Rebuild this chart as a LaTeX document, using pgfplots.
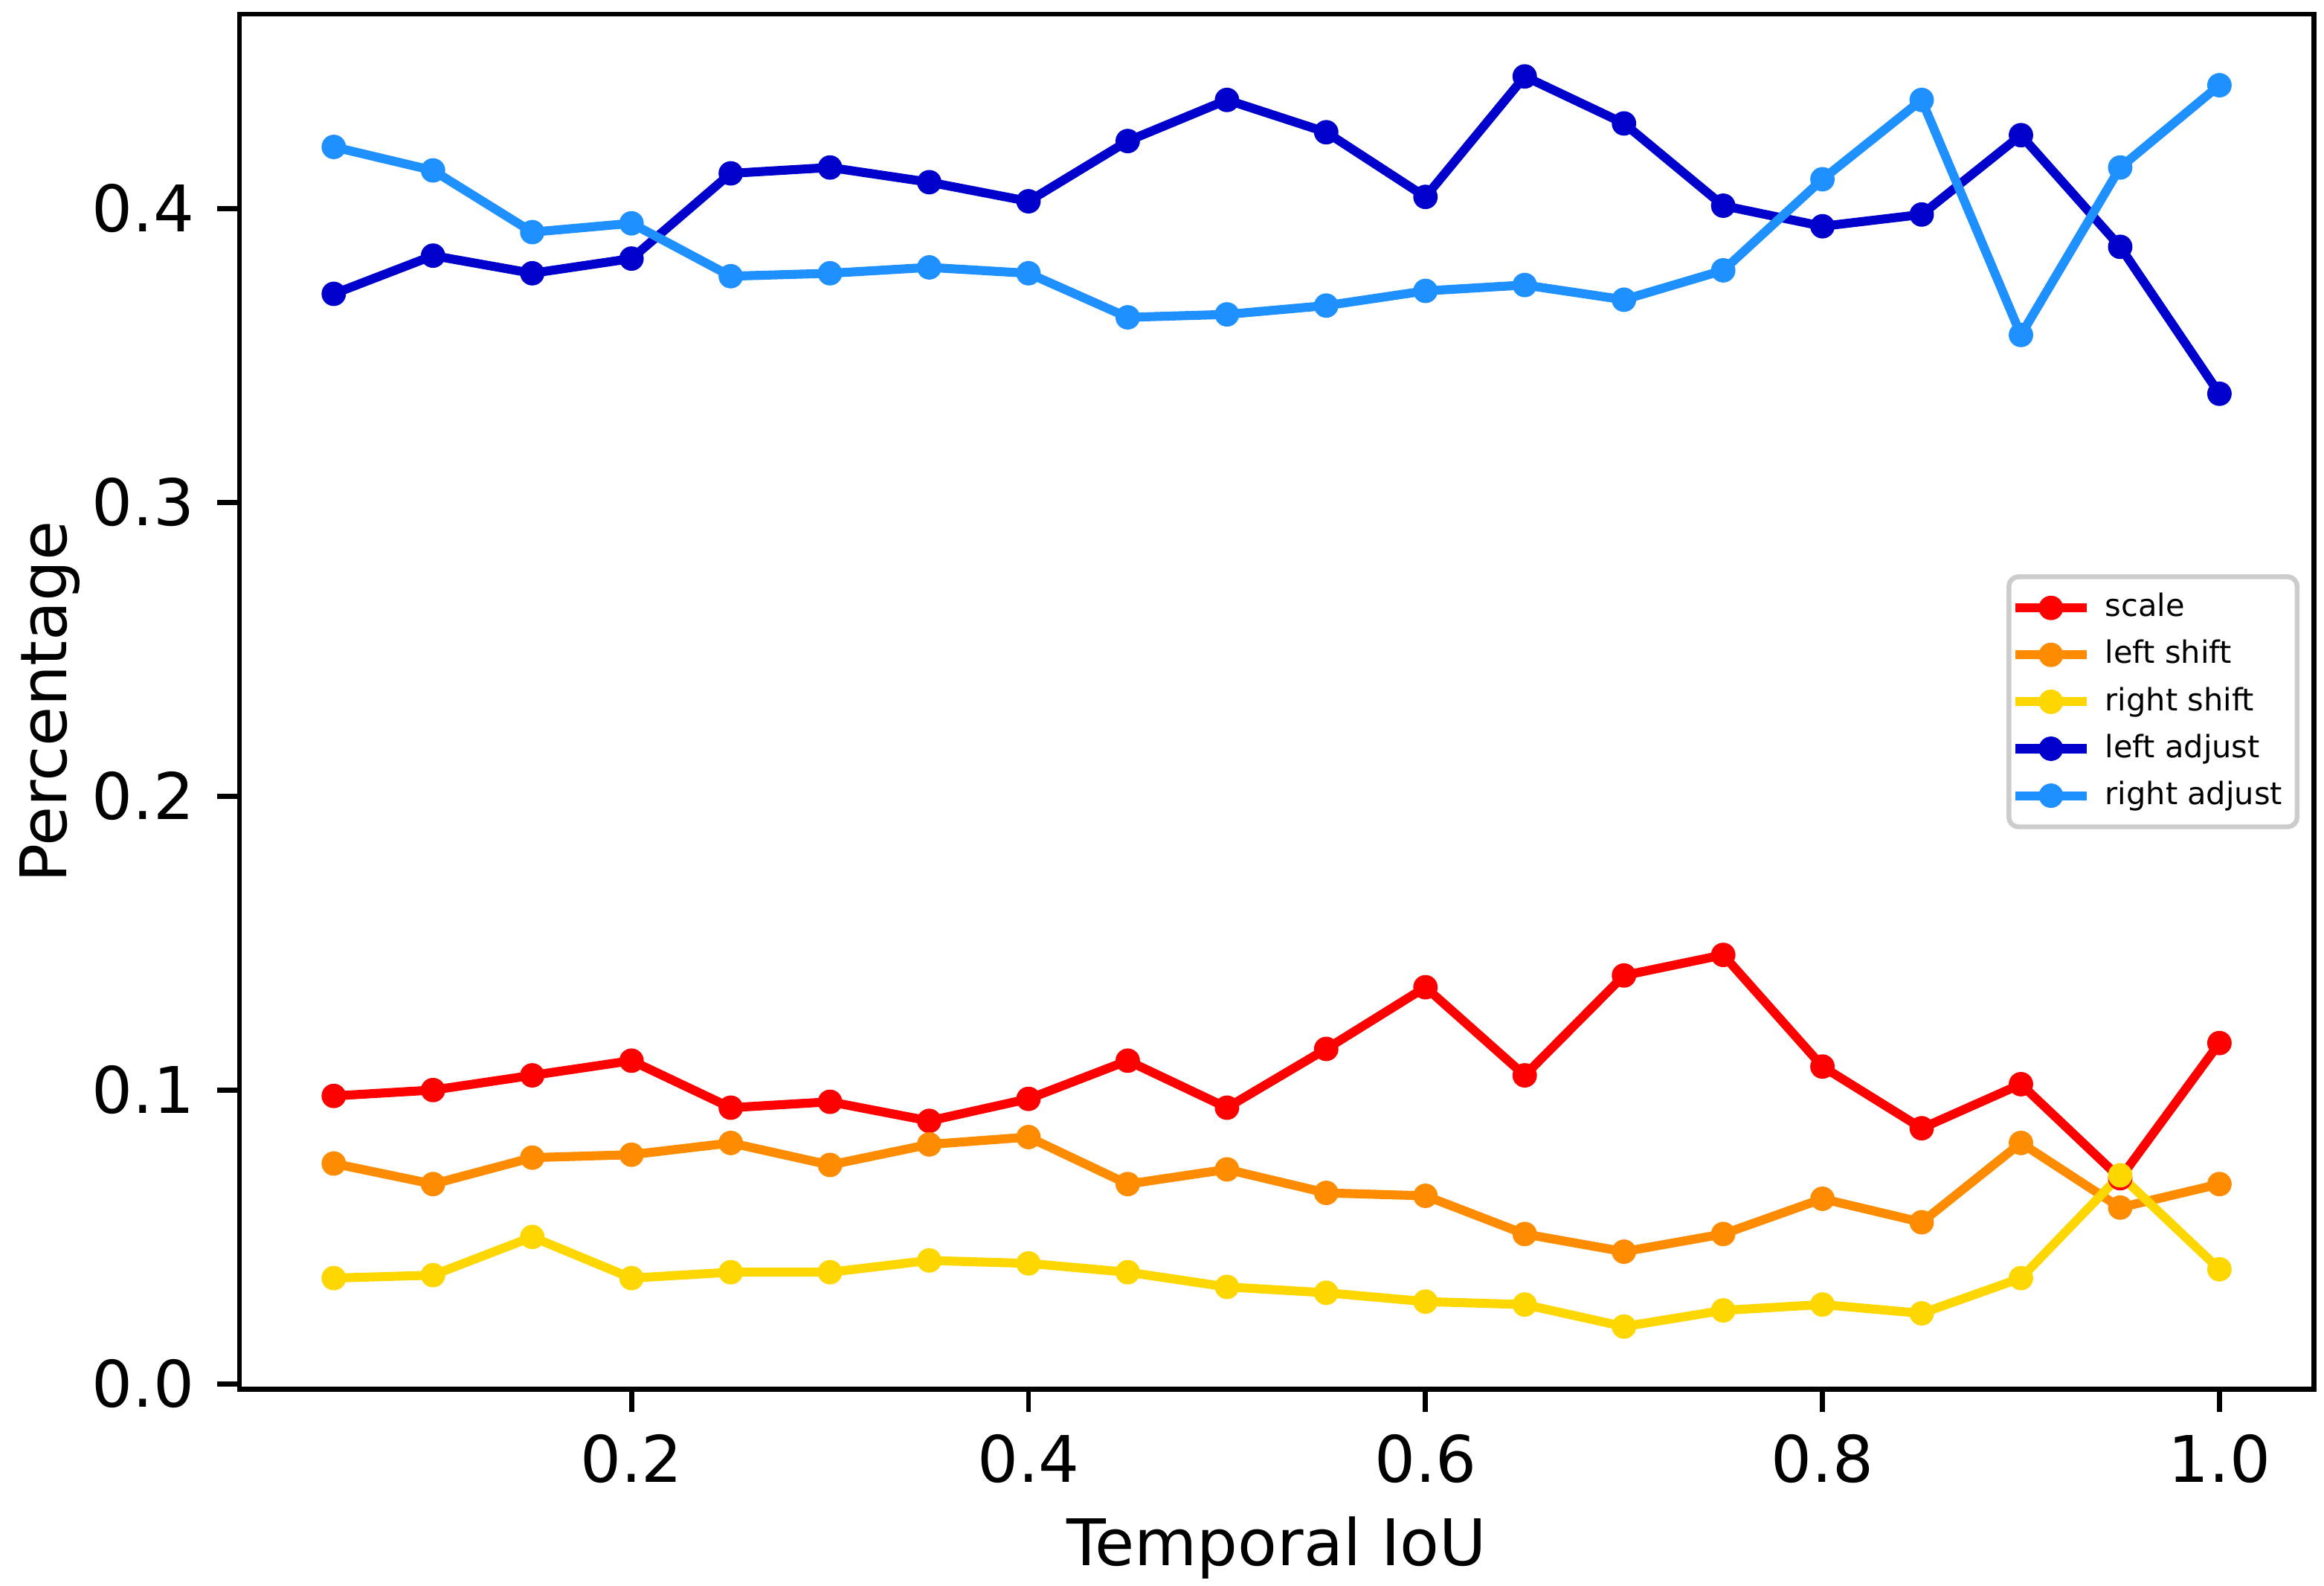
\documentclass[border=0pt]{standalone}
\usepackage{fontspec}
\setmainfont{DejaVu Sans}
\usepackage{pgfplots}
\pgfplotsset{compat=1.18}
\definecolor{cScale}{HTML}{FF0000}
\definecolor{cLShift}{HTML}{FF8C00}
\definecolor{cRShift}{HTML}{FFD700}
\definecolor{cLAdj}{HTML}{0000CD}
\definecolor{cRAdj}{HTML}{1E90FF}
\begin{document}
\begin{tikzpicture}
\path[use as bounding box] (-37.26pt,-30.54pt) rectangle (324.3pt,216.1pt);
\begin{axis}[
  at={(0pt,0pt)}, anchor=south west,
  scale only axis, width=322.7pt, height=213.9pt,
  xmin=0.0025, xmax=1.0475, ymin=-0.0019, ymax=0.4662,
  xtick={0.2,0.4,0.6,0.8,1.0},
  ytick={0,0.1,0.2,0.3,0.4},
  xticklabels={0.2,0.4,0.6,0.8,1.0},
  yticklabels={0.0,0.1,0.2,0.3,0.4},
  tick pos=left, tick align=outside,
  major tick length=3.5pt,
  every tick/.style={black, line width=0.8pt},
  axis line style={line width=0.8pt},
  ticklabel style={font=\fontsize{10}{12}\selectfont},
  /pgf/number format/assume math mode=true,
  xlabel={Temporal IoU}, ylabel={Percentage},
  label style={font=\fontsize{10}{12}\selectfont},
  xlabel style={at={(axis description cs:0.5,0)}, anchor=base, yshift=-27.4pt},
  ylabel style={at={(axis description cs:0,0.5)}, anchor=north, inner sep=0pt, yshift=34.4pt},
  every axis plot/.append style={line width=1.4pt, mark=*, mark size=1.8pt, mark options={solid, line width=0.2pt}},
  legend image code/.code={\draw[mark repeat=2, mark phase=2, #1] plot coordinates {(0pt,0pt) (5.55pt,0pt) (11.1pt,0pt)};},
  legend cell align=left,
  legend style={at={(rel axis cs:1,0.5)}, xshift=-2.2pt, anchor=east,
    draw=gray!40, line width=0.75pt, rounded corners=1.5pt,
    font=\fontsize{4.8}{6}\selectfont, inner xsep=0.3pt, inner ysep=1.2pt,
    row sep=0pt,
    /tikz/every odd column/.append style={column sep=0.2pt},
    nodes={inner ysep=1.2pt, text height=3.8pt, text depth=1.1pt}},
]
\addplot[color=cScale] coordinates {
(0.05,0.098) (0.10,0.100) (0.15,0.105) (0.20,0.110) (0.25,0.094)
(0.30,0.096) (0.35,0.0895) (0.40,0.097) (0.45,0.110) (0.50,0.094)
(0.55,0.114) (0.60,0.135) (0.65,0.105) (0.70,0.139) (0.75,0.146)
(0.80,0.108) (0.85,0.087) (0.90,0.102) (0.95,0.070) (1.00,0.116)};
\addlegendentry{scale}
\addplot[color=cLShift] coordinates {
(0.05,0.075) (0.10,0.068) (0.15,0.077) (0.20,0.078) (0.25,0.082)
(0.30,0.0745) (0.35,0.0815) (0.40,0.084) (0.45,0.068) (0.50,0.073)
(0.55,0.065) (0.60,0.064) (0.65,0.051) (0.70,0.045) (0.75,0.051)
(0.80,0.063) (0.85,0.055) (0.90,0.082) (0.95,0.060) (1.00,0.068)};
\addlegendentry{left shift}
\addplot[color=cRShift] coordinates {
(0.05,0.036) (0.10,0.037) (0.15,0.050) (0.20,0.036) (0.25,0.038)
(0.30,0.038) (0.35,0.042) (0.40,0.041) (0.45,0.038) (0.50,0.033)
(0.55,0.031) (0.60,0.028) (0.65,0.027) (0.70,0.0195) (0.75,0.025)
(0.80,0.027) (0.85,0.024) (0.90,0.036) (0.95,0.071) (1.00,0.039)};
\addlegendentry{right shift}
\addplot[color=cLAdj] coordinates {
(0.05,0.371) (0.10,0.384) (0.15,0.378) (0.20,0.383) (0.25,0.412)
(0.30,0.414) (0.35,0.409) (0.40,0.4025) (0.45,0.423) (0.50,0.437)
(0.55,0.426) (0.60,0.404) (0.65,0.445) (0.70,0.429) (0.75,0.401)
(0.80,0.394) (0.85,0.398) (0.90,0.425) (0.95,0.387) (1.00,0.337)};
\addlegendentry{left adjust}
\addplot[color=cRAdj] coordinates {
(0.05,0.421) (0.10,0.413) (0.15,0.392) (0.20,0.395) (0.25,0.377)
(0.30,0.378) (0.35,0.380) (0.40,0.378) (0.45,0.363) (0.50,0.364)
(0.55,0.367) (0.60,0.372) (0.65,0.374) (0.70,0.369) (0.75,0.379)
(0.80,0.410) (0.85,0.437) (0.90,0.357) (0.95,0.414) (1.00,0.442)};
\addlegendentry{right adjust}
\end{axis}
\end{tikzpicture}
\end{document}
